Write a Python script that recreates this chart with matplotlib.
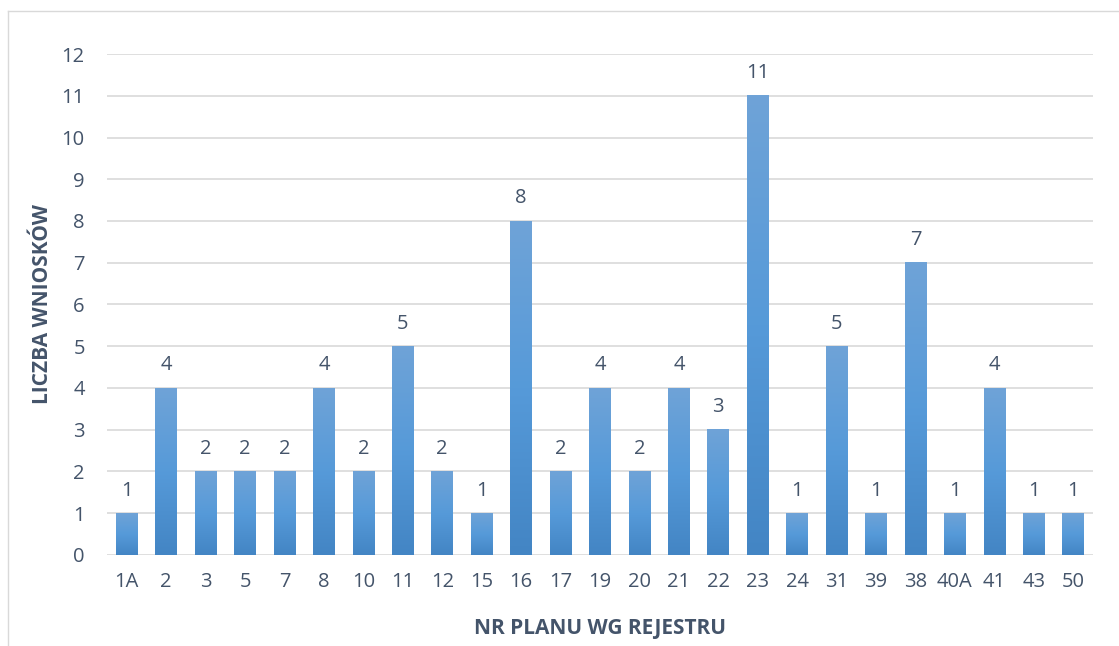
import numpy as np
import matplotlib
matplotlib.use("Agg")
import matplotlib.pyplot as plt
from matplotlib.colors import LinearSegmentedColormap
from matplotlib.lines import Line2D

plt.rcParams['font.family'] = ['Open Sans', 'DejaVu Sans']

# dane
plany = ['1A', '2', '3', '5', '7', '8', '10', '11', '12', '15', '16', '17', '19',
         '20', '21', '22', '23', '24', '31', '39', '38', '40A', '41', '43', '50']
wnioski = [1, 4, 2, 2, 2, 4, 2, 5, 2, 1, 8, 2, 4, 2, 4, 3, 11, 1, 5, 1, 7, 1, 4, 1, 1]
y_ticks = list(range(0, 13))

txt_col = '#44546A'
grad = LinearSegmentedColormap.from_list('bar', ['#4385C4', '#569AD9', '#6FA3D7'])

fig = plt.figure(figsize=(11.19, 6.46), dpi=100)
ax = fig.add_axes([0.0956, 0.1409, 0.8812, 0.7755])

x = np.arange(len(plany))
bars = ax.bar(x, wnioski, width=0.55, color='none', zorder=3)

# gradient w kazdym slupku
g = np.linspace(0, 1, 256).reshape(-1, 1)
for b in bars:
    x0, y0 = b.get_x(), b.get_y()
    w, h = b.get_width(), b.get_height()
    ax.imshow(g, cmap=grad, origin='lower', aspect='auto',
              extent=[x0, x0 + w, y0, y0 + h], zorder=3)

for xi, v in zip(x, wnioski):
    ax.annotate(str(v), (xi, v), xytext=(0, 9), textcoords='offset points',
                ha='center', va='bottom', fontsize=14.5, color=txt_col)

ax.set_xlim(-0.5, len(plany) - 0.5)
ax.set_ylim(0, 12)
ax.set_xticks(x)
ax.set_xticklabels(plany)
ax.set_yticks(y_ticks)
ax.grid(axis='y', color='#D9D9D9', linewidth=1.2, zorder=0)
ax.set_axisbelow(True)
for s in ax.spines.values():
    s.set_visible(False)
ax.tick_params(axis='both', length=0, labelsize=14.5, labelcolor=txt_col)
ax.tick_params(axis='x', pad=12)
ax.tick_params(axis='y', pad=16)

ax.set_xlabel('NR PLANU WG REJESTRU', fontsize=15, fontweight='bold', color=txt_col, labelpad=19)
ax.set_ylabel('LICZBA WNIOSKÓW', fontsize=15, fontweight='bold', color=txt_col, labelpad=6)

# ramka wykresu
fig.add_artist(Line2D([8 / 1119, 8 / 1119], [0, 1 - 11 / 646], transform=fig.transFigure,
                      color='#D9D9D9', linewidth=1))
fig.add_artist(Line2D([8 / 1119, 1], [1 - 11 / 646, 1 - 11 / 646], transform=fig.transFigure,
                      color='#D9D9D9', linewidth=1))

fig.savefig('out.png', dpi=100)
